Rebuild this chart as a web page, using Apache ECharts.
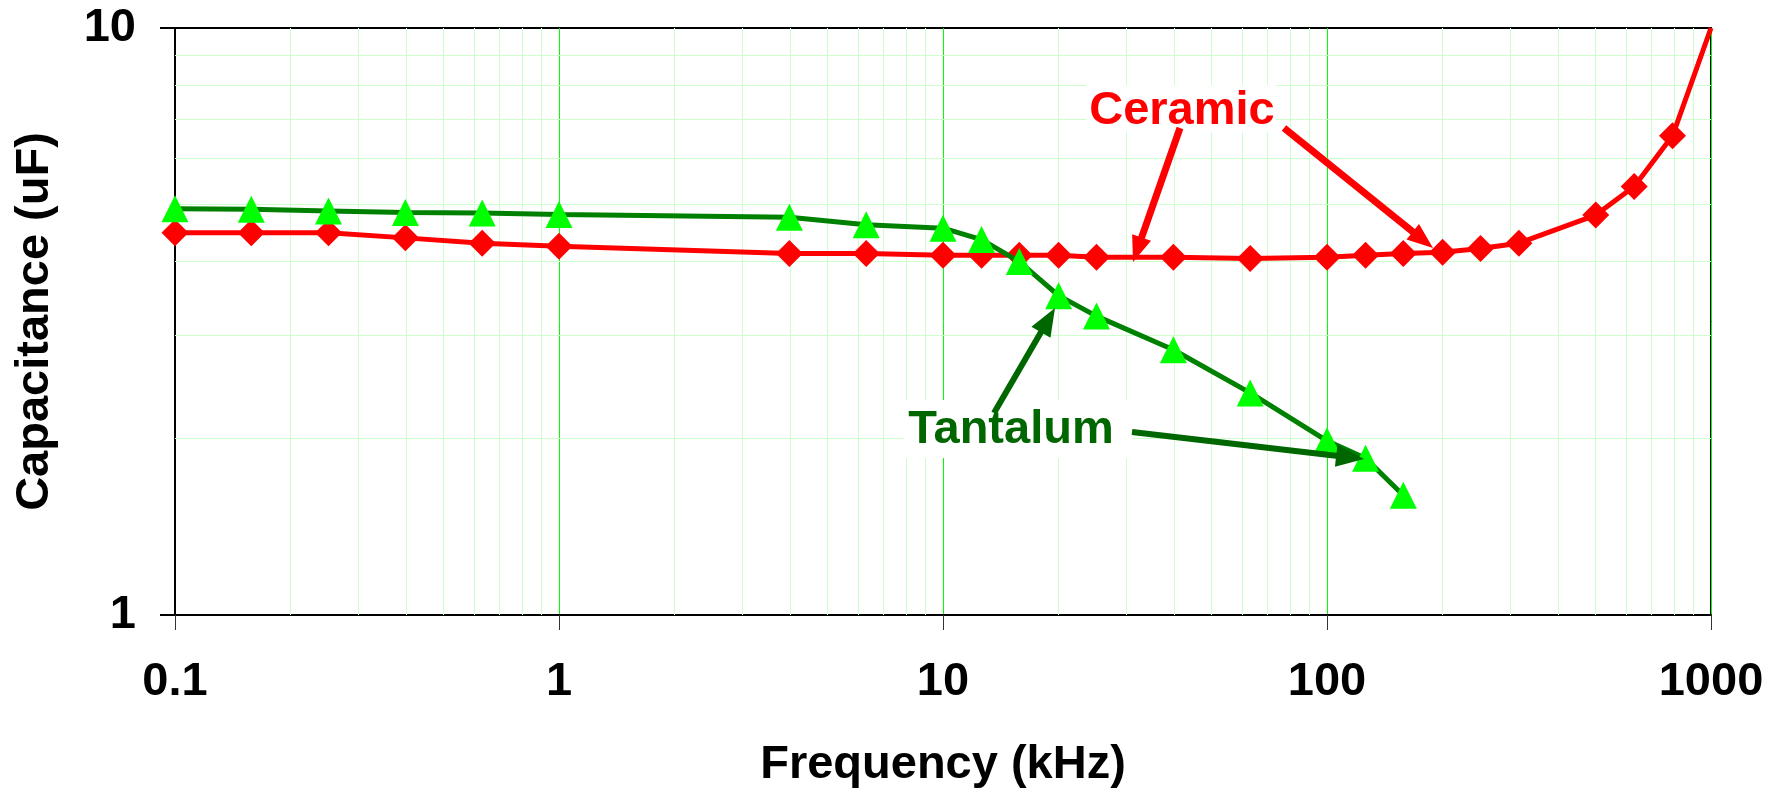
<!DOCTYPE html>
<html>
<head>
<meta charset="utf-8">
<script src="https://cdn.jsdelivr.net/npm/echarts@6/dist/echarts.min.js"></script>
<style>
  html, body { margin: 0; padding: 0; background: #fff; }
  #chart { width: 1784px; height: 794px; }
</style>
</head>
<body>
<div id="chart"></div>
<script>
// frequencies in kHz
var freqTantalum = [0.1, 0.158, 0.251, 0.398, 0.631, 1, 3.98, 6.31, 10, 12.6, 15.8, 20, 25.1, 39.8, 63.1, 100, 126, 158];
var freqCeramic = [0.1, 0.158, 0.251, 0.398, 0.631, 1, 3.98, 6.31, 10, 12.6, 15.8, 20, 25.1, 39.8, 63.1, 100, 126, 158, 200, 251, 316, 501, 631, 794, 1000];
// capacitance in uF
var capTantalum = [4.92, 4.91, 4.88, 4.85, 4.84, 4.81, 4.76, 4.62, 4.56, 4.36, 4.00, 3.50, 3.23, 2.83, 2.39, 1.98, 1.85, 1.60];
var capCeramic = [4.48, 4.48, 4.48, 4.39, 4.30, 4.25, 4.13, 4.13, 4.10, 4.10, 4.10, 4.10, 4.07, 4.07, 4.05, 4.07, 4.10, 4.13, 4.15, 4.21, 4.30, 4.80, 5.37, 6.55, 10];
var xTicks = [0.1, 1, 10, 100, 1000];
var yTicks = [1, 10];

var FONT = 'Liberation Sans, Arial, sans-serif';

// minor grid lines (2..9 in each decade)
var minorX = [];
for (var d = 0; d < xTicks.length - 1; d++) {
  for (var m = 2; m <= 9; m++) minorX.push({ xAxis: +(xTicks[d] * m).toPrecision(3) });
}
var minorY = [];
for (var m2 = 2; m2 <= 9; m2++) minorY.push({ yAxis: m2 });

function arrow(x1, y1, x2, y2, color, w, headLen, headW) {
  var dx = x2 - x1, dy = y2 - y1;
  var len = Math.sqrt(dx * dx + dy * dy);
  var ux = dx / len, uy = dy / len;
  var bx = x2 - ux * headLen, by = y2 - uy * headLen;
  var px = -uy * headW / 2, py = ux * headW / 2;
  return [
    { type: 'line', z: 20, shape: { x1: x1, y1: y1, x2: bx + ux * 2, y2: by + uy * 2 },
      style: { stroke: color, lineWidth: w } },
    { type: 'polygon', z: 20, shape: { points: [[x2, y2], [bx + px, by + py], [bx - px, by - py]] },
      style: { fill: color } }
  ];
}

var graphics = [
  { type: 'rect', z: 15, shape: { x: 1086, y: 85, width: 190, height: 47 }, style: { fill: '#fff' } },
  { type: 'rect', z: 15, shape: { x: 904, y: 400, width: 228, height: 58 }, style: { fill: '#fff' } },
  { type: 'text', z: 21, style: { text: 'Ceramic', x: 1182, y: 111, textAlign: 'center', textVerticalAlign: 'middle',
      fill: '#ff0000', font: 'bold 47px ' + FONT } },
  { type: 'text', z: 21, style: { text: 'Tantalum', x: 1011, y: 430, textAlign: 'center', textVerticalAlign: 'middle',
      fill: '#006600', font: 'bold 47px ' + FONT } }
].concat(
  arrow(1180, 128, 1133, 262, '#ff0000', 7, 26, 20),
  arrow(1284, 128, 1433, 248, '#ff0000', 7, 26, 20),
  arrow(994, 413, 1055, 308, '#006600', 6, 28, 22),
  arrow(1132, 432, 1364, 459, '#006600', 6, 28, 22)
);

var chart = echarts.init(document.getElementById('chart'));
chart.setOption({
  animation: false,
  backgroundColor: '#fff',
  grid: {
    left: 175, top: 28, width: 1536, height: 588,
    show: true, borderColor: '#000', borderWidth: 2, backgroundColor: '#fff'
  },
  xAxis: {
    type: 'log', logBase: 10, min: xTicks[0], max: xTicks[xTicks.length - 1], interval: 1,
    name: 'Frequency (kHz)', nameLocation: 'middle', nameGap: 127,
    nameTextStyle: { fontFamily: FONT, fontWeight: 'bold', fontSize: 47, color: '#000' },
    axisLine: { lineStyle: { color: '#000', width: 2 } },
    axisTick: { show: true, length: 15, lineStyle: { color: '#333', width: 1 } },
    axisLabel: { margin: 44, fontFamily: FONT, fontWeight: 'bold', fontSize: 47, color: '#000',
      formatter: function (v) { return String(+v.toPrecision(3)); } },
    splitLine: { show: true, lineStyle: { color: '#00ff00', width: 1 } }
  },
  yAxis: {
    type: 'log', logBase: 10, min: yTicks[0], max: yTicks[yTicks.length - 1], interval: 1,
    name: 'Capacitance (uF)', nameLocation: 'middle', nameGap: 116,
    nameTextStyle: { fontFamily: FONT, fontWeight: 'bold', fontSize: 47, color: '#000' },
    axisLine: { lineStyle: { color: '#000', width: 2 } },
    axisTick: { show: true, length: 15, lineStyle: { color: '#000', width: 2 } },
    axisLabel: { margin: 39, fontFamily: FONT, fontWeight: 'bold', fontSize: 47, color: '#000',
      formatter: function (v) { return String(+v.toPrecision(3)); } },
    splitLine: { show: false }
  },
  series: [
    {
      name: 'grid', type: 'line', z: 1, silent: true, showSymbol: false,
      data: [[xTicks[0], yTicks[0]]], lineStyle: { opacity: 0 },
      markLine: {
        z: 1, silent: true, symbol: ['none', 'none'], animation: false,
        label: { show: false },
        lineStyle: { color: '#ccffcc', width: 1, type: 'solid' },
        emphasis: { disabled: true },
        data: minorX.concat(minorY)
      }
    },
    {
      name: 'Ceramic', type: 'line', z: 3,
      data: freqCeramic.map(function (f, i) {
        var item = { value: [f, capCeramic[i]] };
        if (i === freqCeramic.length - 1) item.symbol = 'none';
        return item;
      }),
      symbol: 'diamond', symbolSize: 27,
      lineStyle: { color: '#ff0000', width: 5 },
      itemStyle: { color: '#ff0000' }
    },
    {
      name: 'Tantalum', type: 'line', z: 4,
      data: freqTantalum.map(function (f, i) { return [f, capTantalum[i]]; }),
      symbol: 'triangle', symbolSize: 27,
      lineStyle: { color: '#008000', width: 5 },
      itemStyle: { color: '#00ff00' }
    }
  ],
  graphic: graphics
});
</script>
</body>
</html>
